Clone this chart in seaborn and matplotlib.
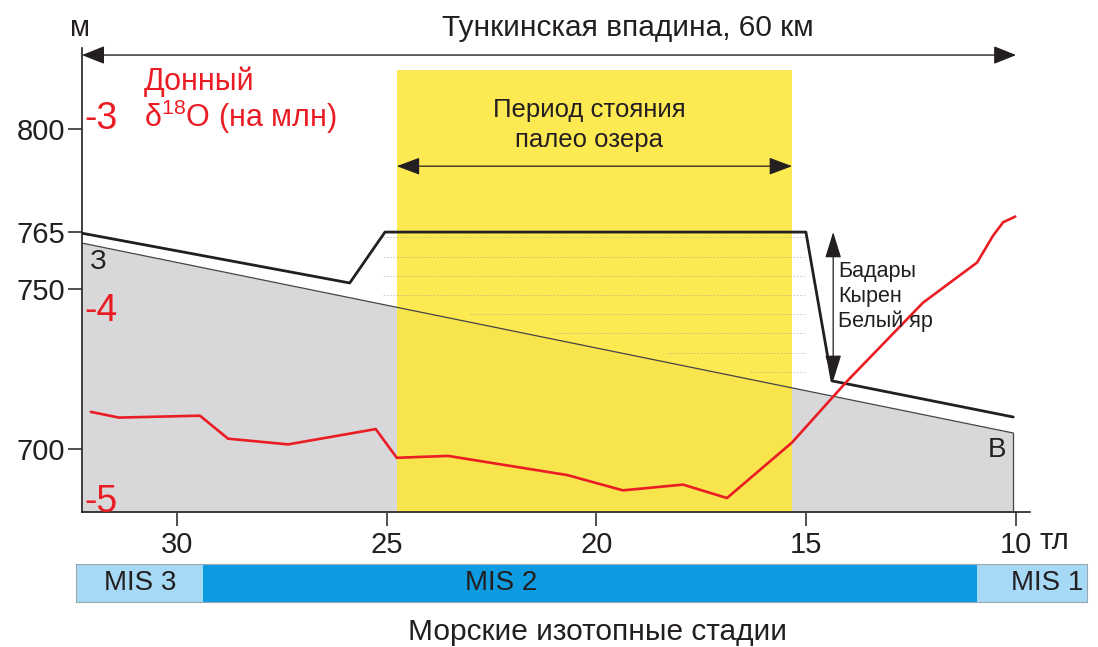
import numpy as np
import pandas as pd
import matplotlib
matplotlib.use("Agg")
import matplotlib.pyplot as plt
import seaborn as sns

# ---- data -------------------------------------------------------------
# time axis: thousand years ago (тл)
x_ticks = [30, 25, 20, 15, 10]
# elevation axis (m), drawn on a schematic piecewise scale
elev_ticks = [700, 750, 765, 800]
elev_knots = [600, 700, 750, 765, 800, 900]
elev_pos = [-769, -449, -289, -232, -129, 165]   # relative screen height of each knot

# bottom δ18O record (‰)
d18o_age = [32.05, 31.38, 29.45, 28.78, 27.35, 25.26, 24.76, 23.54, 20.70,
            19.37, 17.94, 16.89, 15.34, 14.03, 12.22, 10.93, 10.55, 10.31, 10.02]
d18o_val = [-4.55, -4.58, -4.57, -4.69, -4.72, -4.64, -4.79, -4.78, -4.88,
            -4.96, -4.93, -5.00, -4.71, -4.39, -3.98, -3.77, -3.63, -3.56, -3.53]
d18o_ticks = [-3, -4, -5]

# lake level outline (m)
lake_age = [32.26, 25.88, 25.04, 15.01, 14.39, 10.07]
lake_elev = [764.7, 751.6, 765.0, 765.0, 721.3, 710.0]

# basin floor surface from З to В (m)
floor_age = [32.26, 10.07]
floor_elev = [762.1, 705.0]

# former water levels inside the basin
level_elev = [763.7, 758.4, 753.4, 748.1, 742.2, 736.3, 730.0, 724.0]
level_start = [25.09, 25.09, 25.09, 25.09, 23.02, 21.04, 18.32, 16.34]
level_end = [15.01] * 8

# paleolake period
lake_period = (24.76, 15.34)

# marine isotope stages
mis_names = ["MIS 3", "MIS 2", "MIS 1"]
mis_start = [32.40, 29.38, 10.98]
mis_end = [29.38, 10.98, 8.36]
mis_label_x = [30.88, 22.30, 9.31]
mis_colors = ["#a6d9f6", "#0d9be2", "#a6d9f6"]

RED = "#ea1c24"
INK = "#231f20"

# ---- style ------------------------------------------------------------
sns.set_style("ticks")
plt.rcParams["font.family"] = ["Liberation Sans", "DejaVu Sans"]
plt.rcParams["mathtext.fontset"] = "custom"
plt.rcParams["mathtext.rm"] = "Liberation Sans"
plt.rcParams["mathtext.it"] = "Liberation Sans"

W, H = 1098, 647
fig = plt.figure(figsize=(W / 100, H / 100), dpi=100)
fig.patch.set_facecolor("white")


def fx(px):
    return px / W


def fy(py):
    return 1 - py / H


ax = fig.add_axes([fx(82), fy(512), fx(1030) - fx(82), fy(48) - fy(512)])
ax.set_facecolor("none")


def fwd(m):
    return np.interp(m, elev_knots, elev_pos)


def inv(p):
    return np.interp(p, elev_pos, elev_knots)


ax.set_yscale("function", functions=(fwd, inv))
ax.set_xlim(32.26, 9.67)
ax.set_ylim(680.3, 827.6)

# basin floor (grey wedge)
ax.fill_between(floor_age, floor_elev, 600, color="#d8d8da", lw=0, zorder=1)
ax.plot([floor_age[-1], floor_age[-1]], [floor_elev[-1], 680.3],
        color="#444444", lw=0.9, zorder=3)

# lake period band
band_top = (fwd(820.1) - fwd(680.3)) / (fwd(827.6) - fwd(680.3))
ax.axvspan(lake_period[0], lake_period[1], ymin=0, ymax=band_top,
           color="#fde63a", alpha=0.88, lw=0, zorder=2)

sns.lineplot(x=floor_age, y=floor_elev, ax=ax, color="#444444", lw=0.9,
             estimator=None, sort=False, zorder=3)

for e, s, t in zip(level_elev, level_start, level_end):
    ax.plot([s, t], [e, e], color="#9a9a9a", lw=0.6, ls=(0, (2, 2)), alpha=0.6, zorder=3)

sns.lineplot(x=lake_age, y=lake_elev, ax=ax, color=INK, lw=2.0,
             estimator=None, sort=False, zorder=4)

# axes cosmetics
sns.despine(ax=ax)
ax.spines["left"].set_linewidth(1.2)
ax.spines["bottom"].set_linewidth(1.2)
ax.spines["left"].set_color(INK)
ax.spines["bottom"].set_color(INK)
ax.set_xticks(x_ticks)
ax.set_xticklabels([str(v) for v in x_ticks])
ax.set_yticks(elev_ticks)
ax.set_yticklabels([str(v) for v in elev_ticks])
ax.yaxis.set_minor_locator(matplotlib.ticker.NullLocator())
ax.tick_params(axis="both", direction="out", length=10, width=1.1, color=INK,
               labelsize=21, labelcolor=INK)
ax.tick_params(axis="y", pad=2)
ax.tick_params(axis="x", pad=4)
ax.set_xlabel("")
ax.set_ylabel("")

# δ18O on its own scale
ax2 = ax.twinx()
ax2.set_ylim(-5.073, -2.650)
ax2.set_xlim(ax.get_xlim())
for sp in ax2.spines.values():
    sp.set_visible(False)
sns.lineplot(x=d18o_age, y=d18o_val, ax=ax2, color=RED, lw=1.9,
             estimator=None, sort=False, zorder=5)
ax2.yaxis.tick_left()
ax2.set_yticks(d18o_ticks)
ax2.set_yticklabels([str(v) for v in d18o_ticks])
ax2.tick_params(axis="y", length=0, pad=-2, labelsize=27, labelcolor=RED)
for lab in ax2.get_yticklabels():
    lab.set_horizontalalignment("left")
ax2.set_ylabel("")

# top span arrow and caption
ax.annotate("", xy=(32.26, 825.2), xytext=(10.0, 825.2),
            arrowprops=dict(arrowstyle="<|-|>,head_length=0.7,head_width=0.28",
                            color=INK, lw=1.0, mutation_scale=20,
                            shrinkA=0, shrinkB=0), zorder=6, annotation_clip=False)
fig.text(fx(628), fy(28), "Тункинская впадина, 60 км", ha="center", va="center",
         fontsize=21.5, color=INK)
fig.text(fx(80), fy(28), "м", ha="center", va="center", fontsize=21, color=INK)

# lake period caption with arrow
ax.annotate("", xy=(lake_period[0], 787.4), xytext=(lake_period[1], 787.4),
            arrowprops=dict(arrowstyle="<|-|>,head_length=0.8,head_width=0.3",
                            color=INK, lw=0.9, mutation_scale=18,
                            shrinkA=0, shrinkB=0), zorder=6)
fig.text(fx(589), fy(110), "Период стояния", ha="center", va="center",
         fontsize=18.5, color=INK)
fig.text(fx(589), fy(140), "палео озера", ha="center", va="center",
         fontsize=18.5, color=INK)

# lake level drop arrow and site names
ax.annotate("", xy=(14.36, 765.0), xytext=(14.36, 721.3),
            arrowprops=dict(arrowstyle="<|-|>,head_length=0.9,head_width=0.28",
                            color=INK, lw=0.9, mutation_scale=18,
                            shrinkA=0, shrinkB=0), zorder=6)
for txt, py in zip(["Бадары", "Кырен", "Белый яр"], [272, 297, 321]):
    fig.text(fx(838), fy(py), txt, ha="left", va="center", fontsize=15.5, color=INK)

# label for the δ18O curve
fig.text(fx(144), fy(82), "Донный", ha="left", va="center", fontsize=22, color=RED)
fig.text(fx(144), fy(117), "δ$^{18}$O (на млн)", ha="left", va="center",
         fontsize=22, color=RED)

# side labels of the profile
fig.text(fx(97), fy(262), "З", ha="center", va="center", fontsize=20, color=INK)
fig.text(fx(997), fy(450), "В", ha="center", va="center", fontsize=20, color=INK)
fig.text(fx(1040), fy(541), "тл", ha="left", va="center", fontsize=21, color=INK)

# marine isotope stage bar
axm = fig.add_axes([fx(76), fy(602), fx(1087) - fx(76), fy(564) - fy(602)])
axm.set_xlim(mis_start[0], mis_end[-1])
axm.set_ylim(0, 1)
mis_df = pd.DataFrame({"stage": mis_names,
                       "width": np.array(mis_start) - np.array(mis_end),
                       "left": mis_end})
axm.barh(0.5, mis_df["width"], left=mis_df["left"], height=1.0,
         color=mis_colors, edgecolor="none", align="center")
for name, xl in zip(mis_names, mis_label_x):
    axm.text(xl, 0.5, name, ha="center", va="center", fontsize=20, color=INK)
axm.set_xticks([])
axm.set_yticks([])
for sp in axm.spines.values():
    sp.set_visible(True)
    sp.set_color("#9aa8b0")
    sp.set_linewidth(0.8)

fig.text(fx(598), fy(632), "Морские изотопные стадии", ha="center", va="center",
         fontsize=21.5, color=INK)

fig.savefig("out.png", dpi=100, facecolor="white")
